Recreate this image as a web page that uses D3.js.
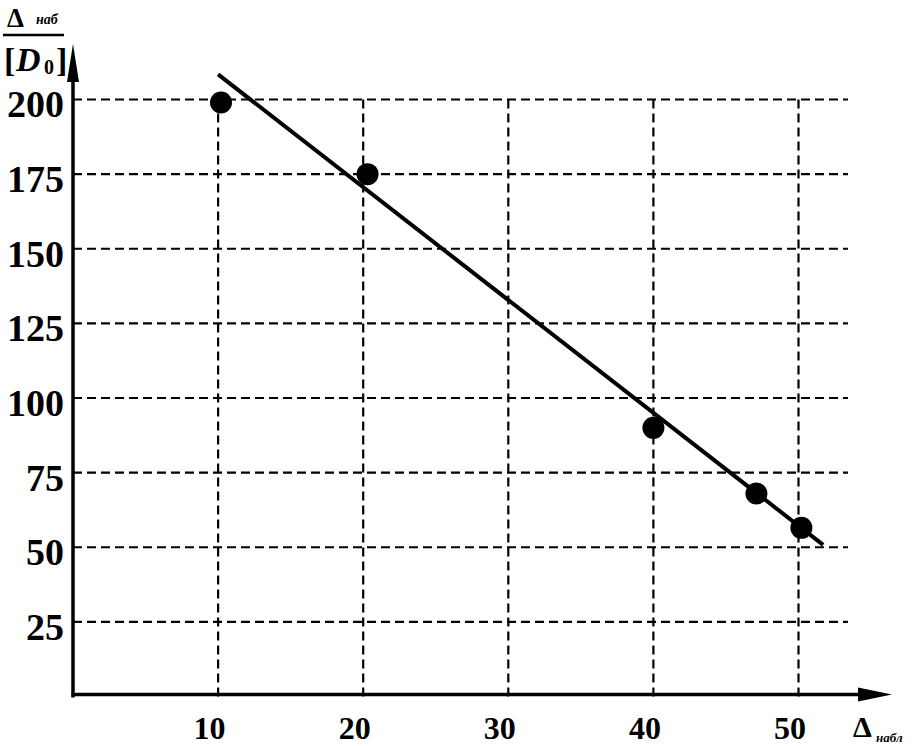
<!DOCTYPE html>
<html><head><meta charset="utf-8">
<script src="https://cdn.jsdelivr.net/npm/d3@7"></script>
<style>
html,body{margin:0;padding:0;background:#fff;}
svg{display:block;}
text{font-family:"Liberation Serif","Times New Roman",serif;font-weight:bold;fill:#000;}
</style></head>
<body>
<script>
// Data
const xTicks = [10, 20, 30, 40, 50];
const yTicks = [25, 50, 75, 100, 125, 150, 175, 200];
const pointX = [10.2, 20.3, 40.0, 47.1, 50.2];
const pointY = [199, 175, 90, 68, 56.5];
const fitX = [10.0, 51.7];
const fitY = [208.4, 50.8];

const W = 912, H = 746;
const svg = d3.select("body").append("svg").attr("width", W).attr("height", H);

const x = d3.scaleLinear().domain([0, 50]).range([73, 798.5]);
const y = d3.scaleLinear().domain([0, 200]).range([696.5, 99.5]);

const gridRight = 848;

// gridlines
const grid = svg.append("g").attr("stroke", "#000").attr("stroke-width", 2.2).attr("stroke-dasharray", "9,5");
grid.selectAll("line.h").data(yTicks).join("line")
  .attr("x1", x(0)).attr("x2", gridRight)
  .attr("y1", d => y(d)).attr("y2", d => y(d));
grid.selectAll("line.v").data(xTicks).join("line")
  .attr("y1", y(0)).attr("y2", y(201))
  .attr("x1", d => x(d)).attr("x2", d => x(d));

// tick labels via d3 axes
const yAxis = svg.append("g").attr("transform", `translate(${x(0)},0)`)
  .call(d3.axisLeft(y).tickValues(yTicks).tickSize(0).tickPadding(9));
yAxis.select(".domain").remove();
yAxis.selectAll("text").attr("font-size", 38).attr("font-family", "Liberation Serif").attr("font-weight", "bold")
  .attr("dy", "0.38em").attr("transform", "translate(0,3)");

const xAxis = svg.append("g").attr("transform", `translate(0,${y(0)})`)
  .call(d3.axisBottom(x).tickValues(xTicks).tickSize(0).tickPadding(20));
xAxis.select(".domain").remove();
xAxis.selectAll("text").attr("font-size", 32).attr("font-family", "Liberation Serif").attr("font-weight", "bold")
  .attr("dx", -9);

// axis lines with arrows
svg.append("line").attr("x1", x(0)).attr("x2", x(0)).attr("y1", y(0) + 1).attr("y2", 60)
  .attr("stroke", "#000").attr("stroke-width", 3.5);
svg.append("path").attr("d", `M${x(0)},44 L${x(0) - 6},82 L${x(0) + 6},82 Z`).attr("fill", "#000");
svg.append("line").attr("x1", x(0) - 1.5).attr("x2", 875).attr("y1", y(0) - 2).attr("y2", y(0) - 2)
  .attr("stroke", "#000").attr("stroke-width", 3.5);
svg.append("path").attr("d", `M892,${y(0) - 2} L858,${y(0) - 9} L858,${y(0) + 5} Z`).attr("fill", "#000");

// fit line
svg.append("line")
  .attr("x1", x(fitX[0])).attr("y1", y(fitY[0]))
  .attr("x2", x(fitX[1])).attr("y2", y(fitY[1]))
  .attr("stroke", "#000").attr("stroke-width", 4);

// points
svg.selectAll("circle").data(pointX.map((d, i) => [d, pointY[i]])).join("circle")
  .attr("cx", d => x(d[0])).attr("cy", d => y(d[1])).attr("r", 11).attr("fill", "#000");

// y axis title: Δ_наб / [D0]
const t = svg.append("g");
t.append("text").attr("x", 7).attr("y", 27).attr("font-size", 27).text("Δ");
t.append("text").attr("x", 36).attr("y", 24).attr("font-size", 14).attr("font-style", "italic").text("наб");
t.append("line").attr("x1", 3).attr("x2", 64).attr("y1", 35).attr("y2", 35).attr("stroke", "#000").attr("stroke-width", 2.5);
t.append("text").attr("x", 4).attr("y", 72).attr("font-size", 34).attr("font-weight", "normal").text("[");
t.append("text").attr("x", 16).attr("y", 71).attr("font-size", 34).attr("font-style", "italic").text("D");
t.append("text").attr("x", 44).attr("y", 74).attr("font-size", 20).attr("font-weight", "normal").text("0");
t.append("text").attr("x", 56).attr("y", 72).attr("font-size", 34).attr("font-weight", "normal").text("]");

// x axis title: Δ_набл
svg.append("text").attr("x", 853).attr("y", 737).attr("font-size", 30).text("Δ");
svg.append("text").attr("x", 876).attr("y", 742).attr("font-size", 13).attr("font-style", "italic").text("набл");
</script>
</body></html>
